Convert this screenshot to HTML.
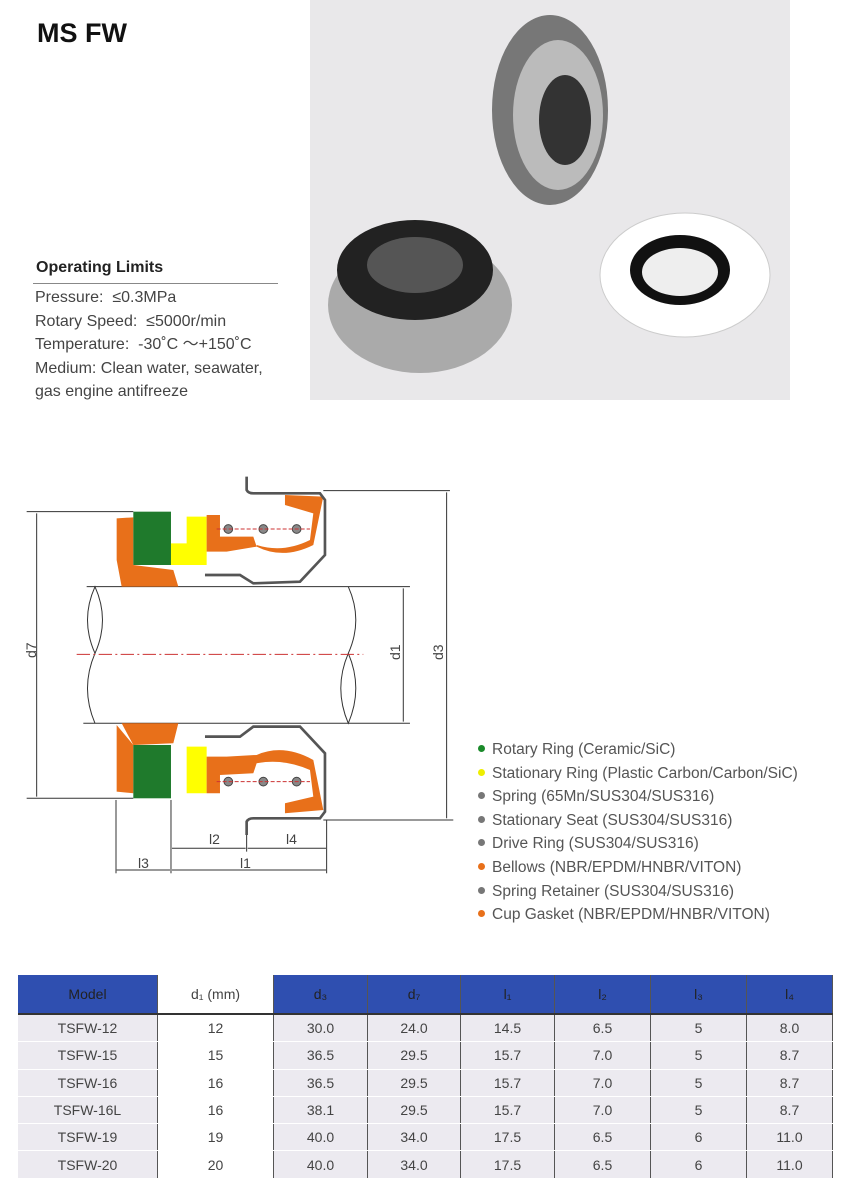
<!DOCTYPE html>
<html><head><meta charset="utf-8"><style>
body{margin:0;width:850px;height:1200px;background:#fff;position:relative;font-family:"Liberation Sans",sans-serif;overflow:hidden}
.a{position:absolute}
.ol{color:#444;font-size:16px;line-height:23.5px}
table{border-collapse:collapse;position:absolute;left:18px;top:975px;width:815px;font-size:14px;color:#444;text-align:center}
td,th{border-right:1px solid #555;height:26.3px;padding:0;font-weight:normal}
th{background:#2f4fb0;color:#222;height:38px;border-bottom:2px solid #333}
td{background:#eceaf0;border-bottom:1px solid #fff}
.w{background:#fff!important;color:#444}
.leg{left:478px;color:#555;font-size:15.5px;line-height:23.6px}
.leg span{display:inline-block;width:7px;height:7px;border-radius:50%;margin-right:7px;vertical-align:2px}
</style></head><body>
<div class="a" style="left:37px;top:18px;font-size:27px;font-weight:bold;color:#111">MS FW</div>
<div class="a" style="left:36px;top:259px;font-size:16px;font-weight:bold;color:#222">Operating Limits</div>
<div class="a" style="left:33px;top:283px;width:245px;border-top:1px solid #888"></div>
<div class="a ol" style="left:35px;top:286px">Pressure:&nbsp; ≤0.3MPa<br>Rotary Speed:&nbsp; ≤5000r/min<br>Temperature:&nbsp; -30˚C ～+150˚C<br>Medium: Clean water, seawater,<br>gas engine antifreeze</div>
<svg class="a" style="left:310px;top:0" width="480" height="400">
<rect width="480" height="400" fill="#e9e8ea"/>
<ellipse cx="240" cy="110" rx="58" ry="95" fill="#777"/>
<ellipse cx="248" cy="115" rx="45" ry="75" fill="#bbb"/>
<ellipse cx="255" cy="120" rx="26" ry="45" fill="#333"/>
<ellipse cx="110" cy="305" rx="92" ry="68" fill="#aaa"/>
<ellipse cx="105" cy="270" rx="78" ry="50" fill="#222"/>
<ellipse cx="105" cy="265" rx="48" ry="28" fill="#555"/>
<ellipse cx="375" cy="275" rx="85" ry="62" fill="#fff" stroke="#ccc"/>
<ellipse cx="370" cy="270" rx="50" ry="35" fill="#111"/>
<ellipse cx="370" cy="272" rx="38" ry="24" fill="#eee"/>
</svg>
<svg class="a" style="left:0;top:460px" width="480" height="420" fill="none" stroke="#333">
<g transform="scale(0.3333)" stroke-width="3">
<line x1="80" y1="155" x2="400" y2="155"/><line x1="80" y1="1015" x2="400" y2="1015"/>
<line x1="110" y1="160" x2="110" y2="1010"/>
<line x1="970" y1="92" x2="1350" y2="92"/><line x1="970" y1="1080" x2="1360" y2="1080"/>
<line x1="1340" y1="97" x2="1340" y2="1075"/>
<line x1="260" y1="380" x2="1230" y2="380"/><line x1="250" y1="790" x2="1230" y2="790"/>
<line x1="1210" y1="385" x2="1210" y2="785"/>
<path d="M285 380 Q240 480 285 580 Q330 480 285 380Z" fill="#fff"/><path d="M285 790 Q240 685 285 580" />
<path d="M1045 380 Q1090 480 1045 580 Q1000 685 1045 790 Q1090 685 1045 580"/>
<line x1="230" y1="583" x2="1090" y2="583" stroke="#c33" stroke-dasharray="40 10 6 10"/>
<path d="M350 175 L400 172 L400 315 L520 330 L535 380 L365 380 L350 300Z" fill="#e8701a" stroke="none"/>
<rect x="400" y="155" width="113" height="160" fill="#1f7a2c" stroke="none"/>
<path d="M513 250 L560 250 L560 170 L620 170 L620 315 L513 315Z" fill="#ff0" stroke="none"/>
<path d="M620 165 L660 165 L660 230 L760 230 L770 260 L680 275 L620 275Z" fill="#e8701a" stroke="none"/>
<path d="M770 260 Q850 300 940 255 L970 110 L855 105 L855 135 L940 160 L930 240 Q850 280 770 255Z" fill="#e8701a" stroke="none"/>
<path d="M740 50 L740 90 Q745 100 760 100 L960 100 L975 120 L975 285 L900 365 L760 370 L720 345 L615 345" stroke="#555" stroke-width="8"/>
<path d="M350 795 L400 855 L400 1000 L350 995Z M365 790 L535 790 L520 850 L400 855Z" fill="#e8701a" stroke="none"/>
<rect x="400" y="855" width="113" height="160" fill="#1f7a2c" stroke="none"/>
<path d="M513 860 L560 860 L560 1000 L620 1000 L620 860 L513 860Z" fill="#ff0" stroke="none"/>
<path d="M620 890 L680 890 L770 885 Q850 850 940 900 L970 1050 L855 1060 L855 1030 L940 1010 L930 930 Q850 895 770 910 L760 940 L660 945 L660 1000 L620 1000Z" fill="#e8701a" stroke="none"/>
<path d="M740 1125 L740 1085 Q745 1075 760 1075 L960 1075 L975 1055 L975 880 L900 800 L760 800 L720 830 L615 830" stroke="#555" stroke-width="8"/>
<g fill="#888" stroke="#444"><circle cx="685" cy="207" r="13"/><circle cx="790" cy="207" r="13"/><circle cx="890" cy="207" r="13"/><circle cx="685" cy="965" r="13"/><circle cx="790" cy="965" r="13"/><circle cx="890" cy="965" r="13"/></g>
<line x1="650" y1="207" x2="930" y2="207" stroke="#c33" stroke-dasharray="12 6"/><line x1="650" y1="965" x2="930" y2="965" stroke="#c33" stroke-dasharray="12 6"/>
<line x1="348" y1="1020" x2="348" y2="1240"/><line x1="513" y1="1020" x2="513" y2="1240"/><line x1="980" y1="1080" x2="980" y2="1240"/><line x1="740" y1="1125" x2="740" y2="1175"/>
<line x1="350" y1="1230" x2="510" y2="1230"/><line x1="516" y1="1230" x2="978" y2="1230"/>
<line x1="516" y1="1165" x2="737" y2="1165"/><line x1="743" y1="1165" x2="978" y2="1165"/>
</g>
<g fill="#444" stroke="none" font-size="14"><text x="26" y="198" transform="rotate(-90 31 193)">d7</text><text x="390" y="200" transform="rotate(-90 395 195)">d1</text><text x="433" y="200" transform="rotate(-90 438 195)">d3</text>
<text x="209" y="384">l2</text><text x="286" y="384">l4</text><text x="138" y="408">l3</text><text x="240" y="408">l1</text></g>
</svg>
<div class="a leg" style="top:738px">
<div><span style="background:#1a8a2a"></span>Rotary Ring (Ceramic/SiC)</div>
<div><span style="background:#ee0"></span>Stationary Ring (Plastic Carbon/Carbon/SiC)</div>
<div><span style="background:#777"></span>Spring (65Mn/SUS304/SUS316)</div>
<div><span style="background:#777"></span>Stationary Seat (SUS304/SUS316)</div>
<div><span style="background:#777"></span>Drive Ring (SUS304/SUS316)</div>
<div><span style="background:#e8701a"></span>Bellows (NBR/EPDM/HNBR/VITON)</div>
<div><span style="background:#777"></span>Spring Retainer (SUS304/SUS316)</div>
<div><span style="background:#e8701a"></span>Cup Gasket (NBR/EPDM/HNBR/VITON)</div>
</div>
<table>
<tr><th style="width:139px">Model</th><th class="w" style="width:115px">d₁ (mm)</th><th style="width:93px">d₃</th><th style="width:92px">d₇</th><th style="width:93px">l₁</th><th style="width:95px">l₂</th><th style="width:95px">l₃</th><th>l₄</th></tr>
<tr><td>TSFW-12</td><td class="w">12</td><td>30.0</td><td>24.0</td><td>14.5</td><td>6.5</td><td>5</td><td>8.0</td></tr>
<tr><td>TSFW-15</td><td class="w">15</td><td>36.5</td><td>29.5</td><td>15.7</td><td>7.0</td><td>5</td><td>8.7</td></tr>
<tr><td>TSFW-16</td><td class="w">16</td><td>36.5</td><td>29.5</td><td>15.7</td><td>7.0</td><td>5</td><td>8.7</td></tr>
<tr><td>TSFW-16L</td><td class="w">16</td><td>38.1</td><td>29.5</td><td>15.7</td><td>7.0</td><td>5</td><td>8.7</td></tr>
<tr><td>TSFW-19</td><td class="w">19</td><td>40.0</td><td>34.0</td><td>17.5</td><td>6.5</td><td>6</td><td>11.0</td></tr>
<tr><td>TSFW-20</td><td class="w">20</td><td>40.0</td><td>34.0</td><td>17.5</td><td>6.5</td><td>6</td><td>11.0</td></tr>
</table>
</body></html>
